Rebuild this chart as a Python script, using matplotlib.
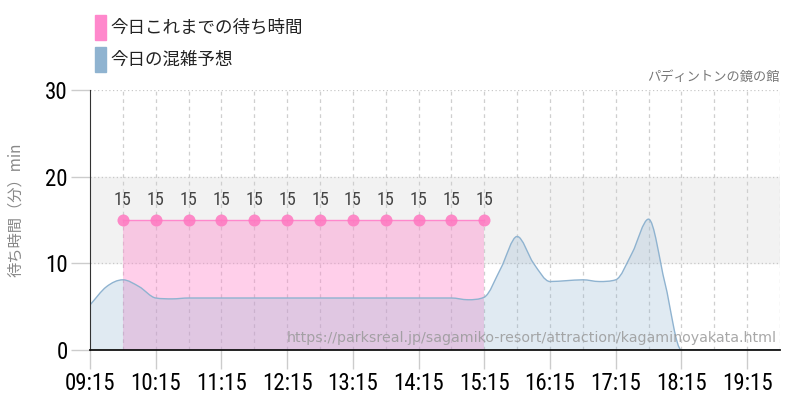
import matplotlib
matplotlib.use("Agg")
import matplotlib.pyplot as plt
from matplotlib.patches import Rectangle, PathPatch
from matplotlib.path import Path

plt.rcParams["font.family"] = ["Noto Sans CJK JP", "DejaVu Sans"]

# forecast, every 15 min from 09:15 to 19:45
forecast_start = 9.25
forecast = [5.2, 7.3, 8.1, 7.3, 6.0, 5.9, 6.0, 6.0, 6.0, 6.0,
            6.0, 6.0, 6.0, 6.0, 6.0, 6.0, 6.0, 6.0, 6.0, 6.0,
            6.0, 6.0, 6.0, 5.8, 6.1, 9.4, 13.1, 10.0, 7.9, 8.0,
            8.1, 7.9, 8.1, 11.2, 15.1, 7.7, 0.0, 0.0, 0.0, 0.0,
            0.0, 0.0, 0.0]

# actual waits, every 30 min from 09:45 to 15:15
actual_start = 9.75
actual = [15, 15, 15, 15, 15, 15, 15, 15, 15, 15, 15, 15]

tick_labels = ["09:15", "10:15", "11:15", "12:15", "13:15", "14:15",
               "15:15", "16:15", "17:15", "18:15", "19:15"]

fx = [forecast_start + i * 0.25 for i in range(len(forecast))]
ax_x = [actual_start + i * 0.5 for i in range(len(actual))]

num_font = ["Roboto Condensed", "Liberation Sans Narrow", "Roboto"]


def curve_verts(xs, ys):
    # monotone cubic bezier through the points (smooth line style)
    n = len(xs)
    d = [(ys[i + 1] - ys[i]) / (xs[i + 1] - xs[i]) for i in range(n - 1)]
    m = [d[0]] + [0.0] * (n - 2) + [d[-1]]
    for i in range(1, n - 1):
        if d[i - 1] * d[i] > 0:
            m[i] = (d[i - 1] + d[i]) / 2
            lim = 3 * min(abs(d[i - 1]), abs(d[i]))
            if abs(m[i]) > lim:
                m[i] = lim if m[i] > 0 else -lim
    verts = [(xs[0], ys[0])]
    codes = [Path.MOVETO]
    for i in range(n - 1):
        h = xs[i + 1] - xs[i]
        verts += [(xs[i] + h / 3, ys[i] + m[i] * h / 3),
                  (xs[i + 1] - h / 3, ys[i + 1] - m[i + 1] * h / 3),
                  (xs[i + 1], ys[i + 1])]
        codes += [Path.CURVE4] * 3
    return verts, codes


fig = plt.figure(figsize=(8, 4), dpi=100)
ax = fig.add_axes([0.1125, 0.125, 0.8625, 0.65])

ax.set_xlim(9.25, 19.75)
ax.set_ylim(0, 30)

ax.axhspan(10, 20, color="#f2f2f2", zorder=0)
for y in [10, 20, 30]:
    ax.axhline(y, color="#c8c8c8", lw=0.9, ls=(0, (1, 2)), zorder=1)
t = 9.75
while t < 19.8:
    ax.axvline(t, color="#cfcfcf", lw=0.9, ls=(0, (3, 3)), zorder=1)
    t += 0.5

ax.fill_between(ax_x, actual, 0, color="#ff88cc", alpha=0.4, lw=0, zorder=2)
ax.plot(ax_x, actual, color="#ff88cc", lw=1, zorder=3)

v, c = curve_verts(fx, forecast)
fill_v = v + [(fx[-1], 0), (fx[0], 0), (fx[0], forecast[0])]
fill_c = c + [Path.LINETO, Path.LINETO, Path.CLOSEPOLY]
ax.add_patch(PathPatch(Path(fill_v, fill_c), facecolor="#8fb3d0", alpha=0.27,
                       lw=0, zorder=3))
ax.add_patch(PathPatch(Path(v, c), facecolor="none", edgecolor="#8fb3d0",
                       lw=1, zorder=4))

ax.scatter(ax_x, actual, s=75, color="#ff77c0", alpha=0.85, lw=0, zorder=5)
for x, val in zip(ax_x, actual):
    ax.annotate(str(val), (x, val), xytext=(0, 8), textcoords="offset points",
                ha="center", va="bottom", fontsize=13, color="#444444",
                family=num_font)

ax.set_xticks([9.25 + i for i in range(len(tick_labels))])
ax.set_xticklabels(tick_labels, family=num_font, fontsize=16.5)
ax.set_yticks([0, 10, 20, 30])
ax.set_yticklabels(["0", "10", "20", "30"], family=num_font, fontsize=16.5)
ax.tick_params(axis="x", length=14, color="#cccccc", width=1, pad=2)
ax.tick_params(axis="y", length=14, color="#cccccc", width=1, pad=2)

for s in ["top", "right"]:
    ax.spines[s].set_visible(False)
ax.spines["left"].set_color("#333333")
ax.spines["bottom"].set_color("#111111")
ax.spines["bottom"].set_linewidth(1.3)
ax.spines["left"].set_zorder(6)
ax.spines["bottom"].set_zorder(6)

ax.set_ylabel("待ち時間（分）min", color="#888888", fontsize=11)
ax.yaxis.set_label_coords(-0.095, 0.54)

ax.text(0.995, 0.045, "https://parksreal.jp/sagamiko-resort/attraction/kagaminoyakata.html",
        transform=ax.transAxes, ha="right", va="center", fontsize=10.3,
        color="#999999", alpha=0.85, zorder=7, family=["DejaVu Sans"])

fig.text(0.975, 0.807, "パディントンの鏡の館", ha="right", va="center",
         fontsize=9.5, color="#777777")

fig.patches.append(Rectangle((95 / 800, 1 - 40 / 400), 11 / 800, 25 / 400,
                             transform=fig.transFigure, color="#ff88cc"))
fig.patches.append(Rectangle((95 / 800, 1 - 72 / 400), 11 / 800, 25 / 400,
                             transform=fig.transFigure, color="#8fb3d0"))
fig.text(110 / 800, 1 - 28 / 400, "今日これまでの待ち時間", fontsize=12.6,
         va="center", color="#222222")
fig.text(110 / 800, 1 - 60 / 400, "今日の混雑予想", fontsize=12.6,
         va="center", color="#222222")

fig.savefig("out.png", dpi=100)
